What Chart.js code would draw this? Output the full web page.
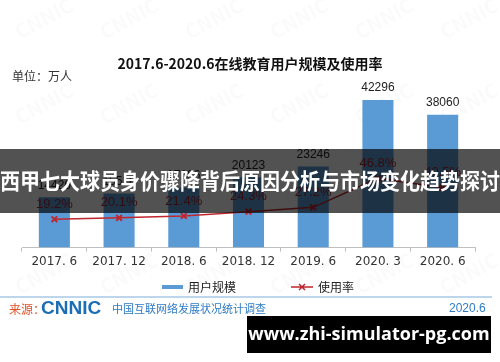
<!DOCTYPE html>
<html>
<head>
<meta charset="utf-8">
<script src="https://cdn.jsdelivr.net/npm/chart.js@4"></script>
<style>
  body { margin: 0; background: #fff; }
  canvas { display: block; }
</style>
</head>
<body>
<canvas id="chart" width="500" height="362"></canvas>
<script>
const categories = ["2017. 6", "2017. 12", "2018. 6", "2018. 12", "2019. 6", "2020. 3", "2020. 6"];
const userScale = [14426, 15518, 17186, 20123, 23246, 42296, 38060];
const usageRate = [19.2, 20.1, 21.4, 24.3, 27.2, 46.8, 40.5];

const CJK = '"Noto Sans CJK SC", "Liberation Sans", sans-serif';
const BLUE = "#5b9bd5";
const RED = "#c0262d";

// texts, watermark, banners
const decor = {
  id: "decor",
  beforeDraw(chart) {
    const ctx = chart.ctx;
    ctx.save();
    ctx.fillStyle = "#fff";
    ctx.fillRect(0, 0, chart.width, chart.height);
    // faint CNNIC watermark
    ctx.fillStyle = "rgba(0,0,0,0.018)";
    ctx.font = "bold 20px " + CJK;
    for (let y = 40; y < 330; y += 85) {
      for (let x = -20; x < 520; x += 85) {
        ctx.save();
        ctx.translate(x + (y % 170 ? 40 : 0), y);
        ctx.rotate(-0.5);
        ctx.fillText("CNNIC", 0, 0);
        ctx.restore();
      }
    }
    ctx.restore();
  },
  afterDatasetsDraw(chart) {
    const ctx = chart.ctx;
    ctx.save();
    ctx.textAlign = "center";
    ctx.textBaseline = "middle";
    const bars = chart.getDatasetMeta(1).data;
    ctx.font = '12px "Liberation Sans", sans-serif';
    ctx.fillStyle = "#222";
    bars.forEach((b, i) => ctx.fillText(String(userScale[i]), b.x, b.y - 12));
    const pts = chart.getDatasetMeta(0).data;
    ctx.font = '13px "Liberation Sans", sans-serif';
    ctx.fillStyle = "#a0282d";
    pts.forEach((p, i) => ctx.fillText(usageRate[i].toFixed(1) + "%", p.x, p.y - 15));
    ctx.restore();
  },
  afterDraw(chart) {
    const ctx = chart.ctx;
    ctx.save();
    ctx.textBaseline = "middle";

    // title + unit
    ctx.fillStyle = "#111";
    ctx.textAlign = "center";
    ctx.font = "bold 14px " + CJK;
    ctx.fillText("2017.6-2020.6在线教育用户规模及使用率", 250, 64);
    ctx.textAlign = "left";
    ctx.font = "12px " + CJK;
    ctx.fillStyle = "#333";
    ctx.fillText("单位：万人", 12, 76);

    // legend
    ctx.fillStyle = BLUE;
    ctx.fillRect(162, 285, 21, 4);
    ctx.fillStyle = "#222";
    ctx.font = "12px " + CJK;
    ctx.fillText("用户规模", 188, 287);
    ctx.strokeStyle = RED;
    ctx.lineWidth = 1.5;
    ctx.beginPath();
    ctx.moveTo(291, 287);
    ctx.lineTo(313, 287);
    ctx.moveTo(299, 284);
    ctx.lineTo(305, 290);
    ctx.moveTo(305, 284);
    ctx.lineTo(299, 290);
    ctx.stroke();
    ctx.fillText("使用率", 318, 287);

    // source line
    ctx.strokeStyle = "#a9c9e6";
    ctx.lineWidth = 1.5;
    ctx.beginPath();
    ctx.moveTo(0, 297);
    ctx.lineTo(492, 297);
    ctx.stroke();
    ctx.fillStyle = "#e0522a";
    ctx.font = "12px " + CJK;
    ctx.fillText("来源：", 9, 309);
    ctx.fillStyle = "#1b6db5";
    ctx.font = 'bold 19px "Liberation Sans", sans-serif';
    ctx.fillText("CNNIC", 41, 309);
    ctx.fillStyle = "#2e7bc4";
    ctx.font = "11px " + CJK;
    ctx.fillText("中国互联网络发展状况统计调查", 112, 309);
    ctx.font = '12px "Liberation Sans", sans-serif';
    ctx.fillText("2020.6", 449, 309);

    // gray headline banner
    ctx.fillStyle = "rgba(0,0,0,0.68)";
    ctx.fillRect(0, 149, 500, 64);
    ctx.fillStyle = "#fff";
    ctx.textAlign = "center";
    ctx.font = "bold 22px " + CJK;
    ctx.fillText("西甲七大球员身价骤降背后原因分析与市场变化趋势探讨", 250, 181, 500);

    // site banner
    ctx.fillStyle = "#000";
    ctx.fillRect(247, 316, 244, 37);
    ctx.fillStyle = "#fff";
    ctx.font = 'bold 18px "Open Sans", "DejaVu Sans", sans-serif';
    ctx.fillText("www.zhi-simulator-pg.com", 369, 335);
    ctx.restore();
  }
};

new Chart(document.getElementById("chart"), {
  type: "bar",
  data: {
    labels: categories,
    datasets: [
      {
        type: "line",
        label: "使用率",
        data: usageRate,
        yAxisID: "y1",
        borderColor: RED,
        borderWidth: 1.5,
        pointStyle: "crossRot",
        pointRadius: 4,
        pointBorderColor: RED,
        pointBorderWidth: 2,
        tension: 0,
        order: 0,
      },
      {
        label: "用户规模",
        data: userScale,
        yAxisID: "y",
        backgroundColor: BLUE,
        categoryPercentage: 1,
        barPercentage: 0.48,
        order: 1,
      },
    ],
  },
  options: {
    responsive: false,
    animation: false,
    layout: { padding: { left: 22, right: 25, top: 73, bottom: 90 } },
    plugins: { legend: { display: false }, tooltip: { enabled: false } },
    scales: {
      x: {
        grid: { drawOnChartArea: false, drawTicks: true, tickLength: 4, color: "#bfbfbf" },
        border: { color: "#bfbfbf" },
        ticks: { color: "#333", font: { size: 12, family: '"DejaVu Sans", sans-serif' }, padding: 3 },
      },
      y: { display: false, min: 0, max: 50000 },
      y1: { display: false, min: 0, max: 118 },
    },
  },
  plugins: [decor],
});
</script>
</body>
</html>
